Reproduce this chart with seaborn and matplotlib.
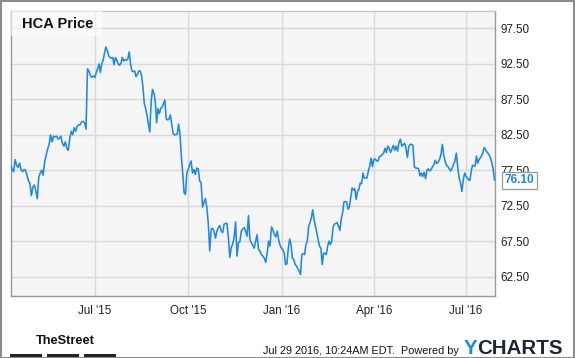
import numpy as np
import pandas as pd
import matplotlib
matplotlib.use("Agg")
import matplotlib.pyplot as plt
from matplotlib.patches import Rectangle
import seaborn as sns

# ---- data (HCA closing price), one array per quarter ----
q2_2015 = [78.2, 77.6, 77.3, 79.0, 78.2, 77.9, 78.5, 77.6, 77.3, 77.6,
           77.5, 76.8, 76.0, 75.7, 73.9, 75.1, 75.4, 74.6, 73.5, 76.5,
           77.1, 77.5, 76.8, 78.7, 79.6, 80.5, 81.1, 82.5, 81.5, 82.3,
           82.2, 82.3, 81.9, 82.0, 82.3, 81.3, 80.9, 81.5, 80.6, 80.3,
           82.0, 83.0, 82.5, 83.5, 83.0, 83.7, 83.9, 83.9, 84.3, 84.4,
           84.2, 83.3, 91.8, 91.5, 90.8, 90.6, 90.8]
q3_2015 = [90.6, 91.3, 91.8, 92.5, 91.3, 92.5, 93.0, 94.0, 94.9, 94.4,
           93.7, 93.4, 93.3, 93.4, 92.4, 93.4, 93.0, 92.5, 92.3, 92.6,
           93.4, 92.9, 93.1, 93.0, 93.2, 94.2, 92.5, 91.5, 91.4, 91.5,
           90.7, 91.0, 91.5, 91.5, 90.9, 89.3, 86.9, 86.2, 85.2, 84.0,
           82.9, 87.2, 88.9, 88.4, 87.2, 84.2, 86.2, 85.5, 86.2, 86.4,
           86.9, 87.4, 84.7, 84.6, 84.7, 85.3, 84.0, 82.7, 82.5, 82.5,
           82.6, 84.0, 82.6, 79.5, 77.1, 74.3, 74.1, 77.1]
q4_2015 = [77.6, 78.3, 78.8, 77.1, 77.6, 76.9, 77.8, 77.7, 75.95, 75.8,
           72.3, 73.0, 73.5, 72.2, 70.0, 66.1, 69.2, 69.3, 68.9, 67.9,
           68.9, 69.4, 69.7, 68.9, 68.7, 69.9, 70.0, 70.0, 68.0, 65.2,
           66.6, 67.1, 68.0, 70.2, 65.4, 67.3, 67.4, 68.9, 69.2, 69.4,
           68.9, 68.2, 71.1, 67.7, 67.25, 66.9, 66.5, 67.5, 68.4, 66.3,
           66.1, 65.6, 65.4, 65.1, 64.5, 65.8, 67.5, 66.8, 69.5, 69.1,
           68.4, 68.1, 68.9, 67.7, 66.9]
q1_2016 = [66.5, 66.3, 65.8, 64.2, 64.3, 66.5, 67.8, 67.0, 65.1, 64.9,
           64.2, 64.0, 63.6, 63.3, 62.8, 65.6, 65.75, 65.6, 67.0, 67.5,
           69.6, 70.1, 70.8, 71.9, 70.5, 69.6, 68.7, 67.7, 66.8, 66.5,
           64.2, 65.8, 65.8, 65.6, 66.8, 67.5, 67.0, 67.5, 69.5, 69.9,
           70.0, 70.1, 69.6, 69.0, 70.6, 71.5, 73.0, 73.1, 73.0, 72.0,
           72.3, 73.7, 75.0, 74.7, 74.9, 73.4, 74.5, 74.8, 75.7, 75.6,
           77.1, 76.4, 76.4, 76.4, 77.4, 78.1, 79.2, 78.0]
q2_2016 = [79.0, 79.1, 78.8, 78.8, 79.4, 79.5, 79.7, 79.9, 80.6, 80.0,
           80.9, 80.6, 80.0, 80.5, 81.0, 80.3, 80.9, 80.2, 81.4, 81.9,
           80.9, 81.1, 81.3, 80.6, 79.3, 80.8, 81.15, 81.15, 81.0, 78.0,
           77.8, 77.8, 77.7, 76.7, 77.1, 76.6, 77.2, 76.3, 77.5, 77.7,
           77.4, 77.6, 78.0, 78.3, 78.9, 78.45, 78.6, 79.0, 79.7, 81.15,
           79.6, 78.8, 78.2, 78.0, 77.7, 77.4, 77.8, 78.3, 78.8, 79.9,
           78.0, 76.4, 75.7, 74.5, 76.2, 77.1]
q3_2016 = [76.6, 76.4, 76.1, 76.1, 77.4, 78.2, 78.1, 78.1, 79.5, 78.5,
           79.0, 79.25, 79.5, 80.0, 80.7, 80.4, 80.1, 79.9, 79.6, 79.2,
           78.5, 77.6, 76.1]

segments = [("2015-04-09", "2015-07-01", q2_2015),
            ("2015-07-01", "2015-10-01", q3_2015),
            ("2015-10-01", "2016-01-01", q4_2015),
            ("2016-01-01", "2016-04-01", q1_2016),
            ("2016-04-01", "2016-07-01", q2_2016),
            ("2016-07-01", "2016-07-29", q3_2016)]

y_ticks = [62.5, 67.5, 72.5, 77.5, 82.5, 87.5, 92.5, 97.5]
x_tick_dates = ["2015-07-01", "2015-10-01", "2016-01-01", "2016-04-01", "2016-07-01"]
x_tick_labels = ["Jul '15", "Oct '15", "Jan '16", "Apr '16", "Jul '16"]
last_label = "76.10"

# ---- build the table ----
frames = []
for i, (s, e, vals) in enumerate(segments):
    last = i == len(segments) - 1
    if last:
        d = pd.date_range(s, e, periods=len(vals))
    else:
        d = pd.date_range(s, e, periods=len(vals) + 1)[:-1]
    frames.append(pd.DataFrame({"date": d, "price": vals}))
df = pd.concat(frames, ignore_index=True)

# ---- style ----
sns.set_style("whitegrid", {"axes.facecolor": "#f5f5f5",
                            "grid.color": "#d9d9d9",
                            "axes.edgecolor": "#a0a0a0"})
plt.rcParams["font.family"] = ["Liberation Sans", "DejaVu Sans"]

W, H = 575, 358
fig = plt.figure(figsize=(W / 100, H / 100), dpi=100)
fig.patch.set_facecolor("white")

def fx(px):
    return px / W

def fy(py):
    return 1 - py / H

ax_l, ax_r, ax_t, ax_b = 10.7, 494.5, 10.7, 295.5
ax = fig.add_axes([fx(ax_l), fy(ax_b), fx(ax_r - ax_l), (ax_b - ax_t) / H])

sns.lineplot(data=df, x="date", y="price", ax=ax, color="#1f88e5",
             linewidth=1.15, zorder=3)

ax.set_xlim(df["date"].iloc[0], df["date"].iloc[-1])
ax.set_ylim(59.83, 100.0)
ax.set_xlabel("")
ax.set_ylabel("")

ax.yaxis.tick_right()
ax.set_yticks(y_ticks)
ax.set_yticklabels([f"{v:.2f}" for v in y_ticks])
ax.set_xticks(pd.to_datetime(x_tick_dates))
ax.set_xticklabels(x_tick_labels)
ax.tick_params(axis="both", length=0, labelsize=8.4, colors="#222222")
ax.tick_params(axis="y", pad=4.5)
ax.tick_params(axis="x", pad=6.5)
ax.grid(True, color="#d9d9d9", linewidth=1.0)
for side in ["left", "right", "bottom", "top"]:
    ax.spines[side].set_color("#9a9a9a")
    ax.spines[side].set_linewidth(1.0)
ax.spines["top"].set_color("#c8c8c8")

# title box
ax.add_patch(Rectangle((0, 1 - (36 - ax_t) / (ax_b - ax_t)),
                       (101.7 - ax_l) / (ax_r - ax_l), (36 - ax_t) / (ax_b - ax_t),
                       transform=ax.transAxes, facecolor="white", alpha=0.55,
                       edgecolor="none", zorder=4))
ax.text((21.7 - ax_l) / (ax_r - ax_l), 1 - (24 - ax_t) / (ax_b - ax_t), "HCA Price",
        transform=ax.transAxes, fontsize=10.5, fontweight="bold",
        color="#111111", va="center", ha="left", zorder=5)

# last value callout
last_val = df["price"].iloc[-1]
ax.annotate(last_label, xy=(1.0, last_val), xycoords=("axes fraction", "data"),
            xytext=(7, 0), textcoords="offset points", ha="left", va="center",
            fontsize=8.6, fontweight="bold", color="#1f88e5", annotation_clip=False,
            bbox=dict(boxstyle="square,pad=0.22", facecolor="white",
                      edgecolor="#9a9a9a", linewidth=0.9), zorder=6)

# footer
fig.text(fx(35.5), fy(341.5), "TheStreet", fontsize=9.2, fontweight="bold",
         color="#111111", ha="left", va="center")
for x0, x1 in [(10, 42), (47, 79), (84, 116)]:
    fig.add_artist(Rectangle((fx(x0), fy(357)), fx(x1 - x0), 3 / H,
                             transform=fig.transFigure, facecolor="#222222",
                             edgecolor="none"))
fig.text(fx(459), fy(351.5), "Jul 29 2016, 10:24AM EDT.  Powered by",
         fontsize=7.8, color="#111111", ha="right", va="center")
fig.text(fx(463.5), fy(348), "Y", fontsize=14.8, fontweight="bold",
         color="#1a8be0", ha="left", va="center")
fig.text(fx(477.5), fy(348), "CHARTS", fontsize=14.8, fontweight="bold",
         color="#1c2733", ha="left", va="center")

# outer frame
fig.add_artist(Rectangle((0.5 / W, 0.5 / H), 1 - 1.5 / W, 1 - 1.5 / H,
                         transform=fig.transFigure, facecolor="none",
                         edgecolor="#8c8c8c", linewidth=1.5))

fig.savefig("out.png", dpi=100)
